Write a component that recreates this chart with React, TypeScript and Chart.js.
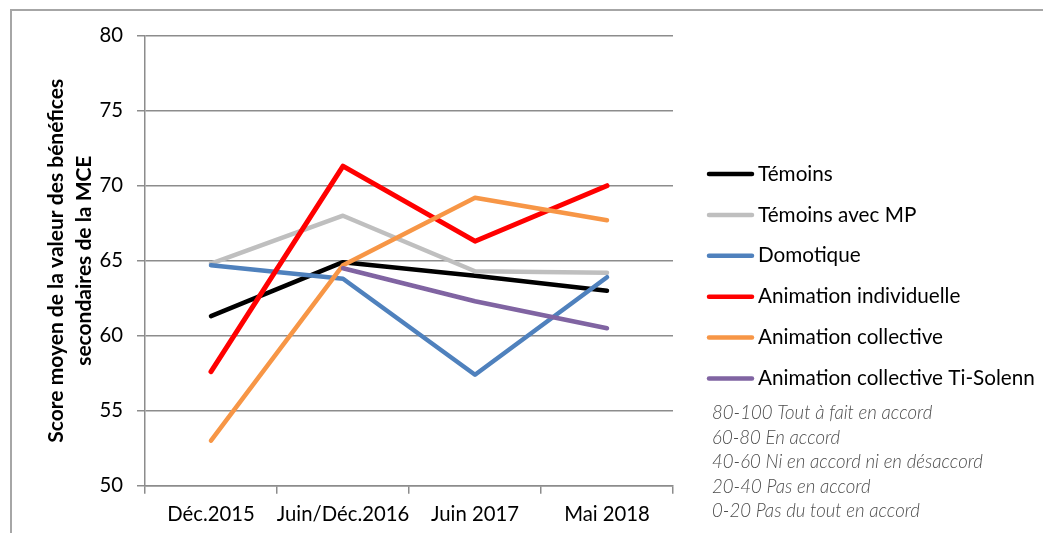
import React, { useEffect, useRef } from "react";
import { Chart, registerables } from "chart.js";

Chart.register(...registerables);

const categories = ["Déc.2015", "Juin/Déc.2016", "Juin 2017", "Mai 2018"];

const seriesLabels = [
  "Témoins",
  "Témoins avec MP",
  "Domotique",
  "Animation individuelle",
  "Animation collective",
  "Animation collective Ti-Solenn",
];

const seriesColors = ["#000000", "#bfbfbf", "#4f81bd", "#ff0000", "#f79646", "#8064a2"];

const temoins = [61.3, 64.9, 64.0, 63.0];
const temoinsMP = [64.8, 68.0, 64.3, 64.2];
const domotique = [64.7, 63.8, 57.4, 63.9];
const animIndividuelle = [57.6, 71.3, 66.3, 70.0];
const animCollective = [53.0, 64.7, 69.2, 67.7];
const animTiSolenn = [null, 64.5, 62.3, 60.5];

const seriesValues = [temoins, temoinsMP, domotique, animIndividuelle, animCollective, animTiSolenn];

const yTicks = [50, 55, 60, 65, 70, 75, 80];

const yTitle = ["Score moyen de la valeur des bénéfices", "secondaires de la MCE"];

const notes = [
  "80-100 Tout à fait en accord",
  "60-80 En accord",
  "40-60 Ni en accord ni en désaccord",
  "20-40 Pas en accord",
  "0-20 Pas du tout en accord",
];

const FONT = "Lato";

const decorPlugin = {
  id: "decor",
  beforeDraw(chart: any) {
    const ctx = chart.ctx;
    ctx.save();
    ctx.strokeStyle = "#a6a6a6";
    ctx.lineWidth = 2;
    ctx.beginPath();
    ctx.moveTo(1043, 10);
    ctx.lineTo(11, 10);
    ctx.lineTo(11, 533);
    ctx.stroke();
    ctx.restore();
  },
  afterDraw(chart: any) {
    const ctx = chart.ctx;
    const area = chart.chartArea;
    ctx.save();
    // y title
    ctx.fillStyle = "#000";
    ctx.font = `bold 21px ${FONT}`;
    ctx.textAlign = "center";
    ctx.textBaseline = "alphabetic";
    const cy = (area.top + area.bottom) / 2;
    ctx.translate(0, cy);
    ctx.rotate(-Math.PI / 2);
    ctx.fillText(yTitle[0], 0, 63);
    ctx.fillText(yTitle[1], 0, 91);
    ctx.restore();

    // legend
    ctx.save();
    const ds = chart.data.datasets;
    ds.forEach((d: any, i: number) => {
      const y = 174 + i * 40.9;
      ctx.strokeStyle = d.borderColor;
      ctx.lineWidth = 4.5;
      ctx.lineCap = "round";
      ctx.beginPath();
      ctx.moveTo(709, y);
      ctx.lineTo(752, y);
      ctx.stroke();
      ctx.fillStyle = "#000";
      ctx.font = `20.7px ${FONT}`;
      ctx.textAlign = "left";
      ctx.textBaseline = "middle";
      ctx.fillText(d.label, 758, y);
    });
    ctx.fillStyle = "#4d4d4d";
    ctx.font = `italic 300 18.6px ${FONT}`;
    ctx.textAlign = "left";
    ctx.textBaseline = "middle";
    notes.forEach((t, i) => {
      ctx.fillText(t, 712, 413 + i * 24.6);
    });
    ctx.restore();
  },
};

export default function App() {
  const ref = useRef<HTMLCanvasElement>(null);
  useEffect(() => {
    if (!ref.current) return;
    const chart = new Chart(ref.current, {
      type: "line",
      data: {
        labels: categories,
        datasets: seriesLabels.map((label, i) => ({
          label,
          data: seriesValues[i],
          borderColor: seriesColors[i],
          backgroundColor: seriesColors[i],
          borderWidth: i === 3 ? 5 : 4.5,
          pointRadius: 0,
          tension: 0,
          borderCapStyle: "round",
          borderJoinStyle: "round",
          spanGaps: false,
          order: seriesLabels.length - i,
        })),
      },
      options: {
        responsive: false,
        animation: false,
        devicePixelRatio: 1,
        layout: { padding: { left: 0, top: 35.7, right: 370, bottom: 0 } },
        plugins: { legend: { display: false }, tooltip: { enabled: false } },
        scales: {
          x: {
            offset: true,
            grid: {
              offset: true,
              drawOnChartArea: false,
              drawTicks: true,
              tickLength: 8,
              color: "#8c8c8c",
              lineWidth: 1.5,
            },
            border: { color: "#8c8c8c", width: 1.5 },
            ticks: { color: "#000", font: { family: FONT, size: 20.3 }, padding: 9, maxRotation: 0, autoSkip: false },
            afterFit: (s: any) => {
              s.height = 533 - 485.7;
            },
          },
          y: {
            min: 50,
            max: 80,
            afterBuildTicks: (s: any) => {
              s.ticks = yTicks.map((v) => ({ value: v }));
            },
            grid: { color: "#8c8c8c", lineWidth: 1.5, tickLength: 8, drawTicks: true },
            border: { color: "#8c8c8c", width: 1.5 },
            ticks: { color: "#000", font: { family: FONT, size: 20.3 }, padding: 14 },
            afterFit: (s: any) => {
              s.width = 145;
            },
          },
        },
      },
      plugins: [decorPlugin],
    });
    return () => chart.destroy();
  }, []);
  return (
    <div style={{ position: "fixed", left: 0, top: 0, width: 1043, height: 533, background: "#fff" }}>
      <canvas ref={ref} width={1043} height={533} />
    </div>
  );
}
